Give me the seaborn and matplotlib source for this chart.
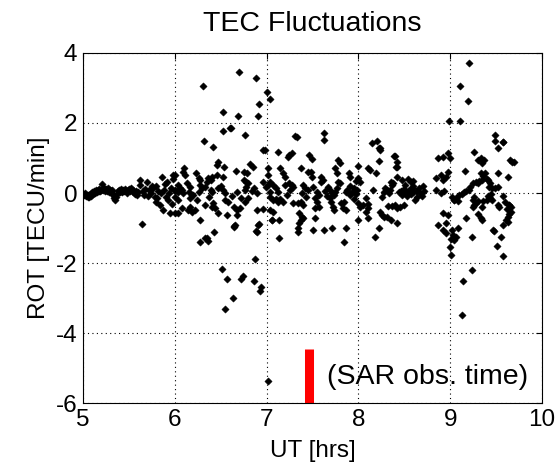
import matplotlib
matplotlib.use("Agg")
import matplotlib.pyplot as plt
import seaborn as sns
import pandas as pd

# ---- quiet period 5.0 - 5.6 UT ----
ut_quiet = [5.00, 5.01, 5.02, 5.03, 5.04, 5.05, 5.06, 5.07, 5.08, 5.09,
            5.10, 5.11, 5.12, 5.13, 5.14, 5.15, 5.16, 5.17, 5.18, 5.19,
            5.20, 5.21, 5.22, 5.23, 5.24, 5.25, 5.26, 5.27, 5.28, 5.29,
            5.30, 5.31, 5.32, 5.33, 5.34, 5.35, 5.36, 5.37, 5.38, 5.39,
            5.40, 5.41, 5.42, 5.43, 5.44, 5.45, 5.46, 5.47, 5.48, 5.49,
            5.50, 5.51, 5.52, 5.53, 5.54, 5.55, 5.56, 5.57, 5.58, 5.59, 5.60]
rot_quiet = [-0.03, -0.05, 0.00, -0.08, -0.05, -0.10, -0.06, -0.12, -0.04, -0.08,
             0.02, -0.03, 0.05, 0.01, 0.08, 0.03, 0.10, 0.05, 0.12, 0.06,
             0.10, 0.26, 0.08, 0.13, 0.05, 0.11, 0.07, 0.14, 0.04, 0.10,
             0.06, 0.02, 0.09, -0.05, -0.15, -0.20, -0.10, -0.03, 0.05, 0.10,
             0.04, 0.12, 0.07, 0.02, 0.09, 0.05, 0.11, 0.06, 0.00, 0.08,
             0.12, 0.05, 0.15, 0.09, 0.03, 0.10, 0.04, -0.02, 0.06, -0.05, 0.02]

# ---- onset 5.6 - 6.0 UT ----
ut_onset = [5.62, 5.62, 5.64, 5.65, 5.67, 5.70, 5.72, 5.74, 5.76, 5.78,
            5.79, 5.80, 5.82, 5.84, 5.86, 5.87, 5.88, 5.90, 5.92, 5.93,
            5.95, 5.96, 5.98, 5.98, 6.00, 6.00, 5.68, 5.71, 5.75, 5.81,
            5.85, 5.89, 5.94, 5.97]
rot_onset = [0.37, 0.23, -0.89, 0.05, -0.05, 0.31, 0.10, 0.00, 0.15, -0.10,
             -0.26, 0.20, 0.05, -0.35, 0.46, -0.49, 0.10, -0.10, 0.31, -0.20,
             -0.57, 0.15, 0.51, 0.40, -0.57, 0.05, 0.12, -0.08, 0.20, -0.15,
             0.00, 0.25, 0.00, -0.30]

# ---- 6.0 - 7.05 UT ----
ut_a = [6.31, 6.52, 6.69, 6.91, 6.53, 6.61, 6.77, 6.32, 6.42, 6.96,
        6.47, 6.46, 6.54, 6.67, 6.82, 6.85, 6.75, 6.79, 7.02, 7.01,
        6.10, 6.09, 6.11, 6.00, 6.23, 6.46, 6.53, 6.36, 6.39, 6.35,
        6.41, 6.26, 6.28, 6.75, 6.78, 6.80, 6.78, 6.03, 6.06, 6.00,
        6.04, 6.08, 6.09, 6.17, 6.15, 6.19, 6.17, 6.28, 6.30, 6.33,
        6.26, 6.39, 6.41, 6.47, 6.52, 6.55, 6.68, 6.77, 6.86, 6.90,
        6.96, 6.99, 7.02, 7.04, 6.00, 6.04, 6.08, 6.14, 6.17, 6.19,
        6.22, 6.33, 6.41, 6.42, 6.44, 6.55, 6.58, 6.64, 6.68, 6.71,
        6.77, 6.80, 6.03, 6.28, 6.47, 6.57, 6.68, 6.90, 6.96, 7.04,
        7.06, 6.64, 6.66, 6.91, 6.43, 6.90, 6.33, 6.35, 6.70, 6.88,
        7.00, 7.04, 6.92, 6.60, 6.98, 6.27, 6.36, 6.51, 6.57, 6.72,
        6.74, 6.63, 6.55, 6.87, 6.86, 6.94, 6.93, 7.01, 6.89, 6.92,
        6.64, 6.20, 6.13, 6.24, 6.37, 6.50, 6.62, 6.72, 6.84]
rot_a = [3.06, 2.31, 2.20, 2.20, 1.77, 1.86, 1.66, 1.49, 1.31, 1.23,
         0.89, 0.80, 0.74, 0.63, 0.83, 0.74, 0.60, 0.57, 0.71, 0.51,
         0.71, 0.60, 0.51, 0.51, 0.57, 0.51, 0.46, 0.43, 0.37, 0.31,
         0.46, 0.43, 0.37, 0.37, 0.31, 0.29, 0.17, 0.23, 0.14, 0.09,
         0.03, 0.09, 0.00, 0.17, 0.03, -0.06, -0.14, 0.23, 0.14, 0.17,
         0.03, 0.09, 0.03, 0.14, 0.09, 0.00, 0.03, 0.09, 0.14, 0.00,
         0.31, 0.17, 0.23, 0.03, -0.11, -0.20, -0.43, -0.49, -0.40, -0.54,
         -0.49, -0.34, -0.40, -0.29, -0.43, -0.20, -0.26, -0.40, -0.49, -0.43,
         -0.26, -0.14, -0.57, -0.77, -0.57, -0.63, -0.63, -0.49, -0.46, -0.49,
         -0.77, -0.94, -0.91, -0.91, -1.11, -1.11, -1.29, -1.29, 3.46, 3.29,
         2.89, 2.69, 2.54, 1.86, 1.23, -1.40, -1.37, -2.17, -2.46, -2.46,
         -2.37, -3.00, -3.31, -1.89, -2.51, -2.69, -2.80, -5.37, -1.09, -0.89,
         -0.97, -0.05, 0.30, -0.20, -0.10, 0.20, -0.08, -0.15, 0.05]

# ---- 7.05 - 8.05 UT ----
ut_b = [7.31, 7.33, 7.62, 7.62, 7.12, 7.24, 7.28, 7.23, 7.46, 7.50,
        7.78, 7.80, 8.00, 7.15, 7.18, 7.20, 7.37, 7.45, 7.48, 7.50,
        7.59, 7.61, 7.59, 7.75, 7.77, 7.90, 7.91, 8.00, 8.02, 7.04,
        7.07, 7.10, 7.12, 7.20, 7.24, 7.28, 7.29, 7.26, 7.40, 7.42,
        7.45, 7.39, 7.51, 7.55, 7.57, 7.67, 7.69, 7.71, 7.66, 7.69,
        7.73, 7.75, 7.77, 7.80, 7.78, 7.86, 7.88, 7.91, 7.93, 7.95,
        7.97, 7.99, 7.91, 7.95, 7.04, 7.07, 7.10, 7.12, 7.15, 7.18,
        7.29, 7.34, 7.37, 7.40, 7.53, 7.55, 7.57, 7.53, 7.70, 7.72,
        7.73, 7.81, 7.84, 7.83, 7.86, 8.00, 8.02, 8.05, 7.07, 7.06,
        7.13, 7.35, 7.39, 7.40, 7.37, 7.35, 7.34, 7.34, 7.53, 7.51,
        7.62, 7.71, 7.86, 8.00, 7.14, 7.84, 7.64, 7.43, 7.22, 7.97]
rot_b = [1.63, 1.60, 1.71, 1.51, 1.17, 1.09, 1.14, 1.03, 1.09, 0.97,
         0.94, 0.86, 0.77, 0.71, 0.57, 0.46, 0.71, 0.60, 0.60, 0.46,
         0.46, 0.37, 0.31, 0.71, 0.57, 0.57, 0.46, 0.43, 0.31, 0.31,
         0.23, 0.14, 0.03, 0.23, 0.29, 0.23, 0.17, 0.09, 0.23, 0.14,
         0.09, 0.00, 0.17, 0.03, -0.06, 0.17, 0.09, 0.00, -0.09, -0.14,
         -0.06, 0.03, 0.14, 0.29, 0.31, 0.03, 0.09, 0.20, 0.03, 0.14,
         -0.03, 0.09, -0.06, -0.17, -0.11, -0.20, -0.17, -0.26, -0.17, -0.26,
         -0.29, -0.29, -0.26, -0.34, -0.14, -0.26, -0.40, -0.43, -0.26, -0.40,
         -0.49, -0.29, -0.26, -0.43, -0.49, -0.29, -0.40, -0.34, -0.54, -0.77,
         -0.77, -0.57, -0.69, -0.71, -0.77, -0.86, -1.00, -1.11, -0.71, -1.06,
         -1.06, -1.00, -1.00, -0.77, -1.29, -1.40, 0.05, -0.12, -0.05, 0.35]

# ---- 8.05 - 8.75 UT ----
ut_c = [8.15, 8.20, 8.22, 8.24, 8.39, 8.22, 8.41, 8.11, 8.13, 8.19,
        8.42, 8.35, 8.37, 8.38, 8.29, 8.31, 8.28, 8.34, 8.33, 8.48,
        8.51, 8.54, 8.57, 8.60, 8.59, 8.46, 8.48, 8.50, 8.51, 8.53,
        8.55, 8.57, 8.58, 8.60, 8.63, 8.64, 8.66, 8.67, 8.69, 8.70,
        8.72, 8.32, 8.37, 8.40, 8.42, 8.45, 8.50, 8.24, 8.26, 8.28,
        8.31, 8.36, 8.42, 8.22, 8.18, 8.08, 8.10, 8.11, 8.08, 8.11,
        8.24, 8.40, 8.42, 8.42, 8.16, 8.26, 8.44, 8.62]
rot_c = [1.43, 1.49, 1.29, 1.23, 1.06, 0.91, 0.74, 0.71, 0.66, 0.57,
         0.46, 0.31, 0.23, 0.29, 0.14, 0.09, 0.03, 0.09, 0.00, 0.37,
         0.23, 0.40, 0.31, 0.20, 0.34, 0.06, -0.06, 0.11, 0.03, -0.09,
         0.09, -0.03, 0.14, 0.03, 0.06, -0.10, 0.14, 0.00, -0.09, 0.20,
         0.06, -0.37, -0.37, -0.34, -0.43, -0.40, -0.34, -0.54, -0.63, -0.69,
         -0.69, -0.77, -0.86, -1.00, -1.26, -0.14, -0.31, -0.43, -0.54, -0.71,
         1.29, 1.06, 0.89, 0.74, 0.10, -0.10, 0.02, -0.20]

# ---- 8.85 - 9.7 UT ----
ut_d = [9.21, 9.11, 9.19, 8.99, 9.11, 9.49, 9.49, 9.57, 9.52, 9.26,
        9.65, 9.67, 9.30, 9.33, 9.37, 9.35, 9.16, 9.52, 9.63, 9.33,
        9.36, 9.38, 9.40, 9.41, 9.43, 9.35, 9.25, 9.28, 9.30, 9.31,
        9.42, 9.46, 9.49, 9.52, 9.22, 9.20, 9.17, 9.15, 9.13, 9.10,
        9.06, 9.04, 9.08, 9.02, 9.26, 9.25, 9.28, 9.30, 9.25, 9.26,
        9.36, 9.40, 9.41, 9.43, 9.44, 9.46, 9.35, 9.57, 9.60, 9.64,
        9.66, 9.62, 9.66, 9.64, 9.52, 9.53, 9.30, 9.33, 9.35, 9.17,
        9.63, 9.61, 9.63, 9.57, 9.47, 9.48, 9.09, 9.06, 9.24, 9.55,
        9.00, 9.01, 9.57, 9.24, 9.14, 9.13, 9.51, 8.87, 8.92, 8.98,
        9.00, 8.90, 8.85, 8.92, 8.95, 8.98, 8.85, 8.90, 8.93, 8.92,
        8.98, 8.95, 8.87, 8.92, 8.95, 9.02, 9.03, 9.01, 9.04, 9.04,
        9.58, 9.69, 9.64]
rot_d = [3.71, 3.06, 2.63, 2.06, 2.06, 1.66, 1.49, 1.46, 1.29, 1.17,
         0.94, 0.89, 0.94, 1.00, 0.94, 0.86, 0.63, 0.57, 0.46, 0.57,
         0.49, 0.57, 0.40, 0.37, 0.29, 0.37, 0.29, 0.31, 0.29, 0.34,
         0.17, 0.14, 0.14, 0.17, 0.17, 0.09, 0.06, 0.03, -0.03, -0.06,
         -0.14, -0.20, -0.23, -0.11, -0.11, -0.20, -0.29, -0.23, -0.40, -0.34,
         -0.23, -0.20, -0.09, -0.14, -0.03, -0.20, -0.40, -0.09, -0.26, -0.34,
         -0.40, -0.46, -0.54, -0.60, -0.34, -0.40, -0.60, -0.71, -0.77, -0.71,
         -0.69, -0.77, -0.83, -0.91, -1.06, -1.09, -1.00, -1.26, -1.26, -1.26,
         -1.54, -1.77, -1.80, -2.20, -2.51, -3.49, -1.51, 1.00, 1.03, 1.14,
         1.00, 0.51, 0.43, 0.37, 0.46, 0.60, 0.09, 0.00, 0.06, -0.57,
         -0.63, -0.86, -0.91, -1.06, -1.14, -1.06, -1.20, -1.30, -1.34, -0.20,
         1.46, 0.90, -0.35]

# SAR observation marker
sar_time = 7.46
sar_bottom, sar_top = -6.0, -4.45

x_ticks = [5, 6, 7, 8, 9, 10]
y_ticks = [-6, -4, -2, 0, 2, 4]

df = pd.DataFrame({
    "UT": ut_quiet + ut_onset + ut_a + ut_b + ut_c + ut_d,
    "ROT": rot_quiet + rot_onset + rot_a + rot_b + rot_c + rot_d,
})

sns.set_style("white")
plt.rcParams["font.family"] = ["Liberation Sans", "DejaVu Sans"]
plt.rcParams["text.color"] = "black"
plt.rcParams["axes.labelcolor"] = "black"
plt.rcParams["xtick.color"] = "black"
plt.rcParams["ytick.color"] = "black"
plt.rcParams["axes.unicode_minus"] = False

fig = plt.figure(figsize=(5.55, 4.69), dpi=100)
ax = fig.add_axes([0.1495, 0.1407, 0.8271, 0.7463])

sns.scatterplot(data=df, x="UT", y="ROT", ax=ax, marker="D", s=14,
                color="black", edgecolor="black", linewidth=0.3, legend=False)

ax.vlines(sar_time, sar_bottom, sar_top, colors="#ff0000", linewidth=6.5)
ax.text(7.66, -5.26, "(SAR obs. time)", fontsize=20.5, va="center", ha="left",
        color="black")

ax.set_xlim(5, 10)
ax.set_ylim(-6, 4)
ax.set_xticks(x_ticks)
ax.set_yticks(y_ticks)
ax.grid(True, linestyle=(0, (1, 3)), color="black", linewidth=0.8)
ax.tick_params(direction="in", length=4, width=0.8, top=True, right=True,
               labelsize=17.5, colors="black", pad=4)
for sp in ax.spines.values():
    sp.set_color("black")
    sp.set_linewidth(0.8)

ax.set_xlabel("UT [hrs]", fontsize=17.5, labelpad=7, color="black")
ax.set_ylabel("ROT [TECU/min]", fontsize=17.5, labelpad=4, color="black")
ax.set_title("TEC Fluctuations", fontsize=20.5, pad=16, color="black")

fig.savefig("out.png", dpi=100)
